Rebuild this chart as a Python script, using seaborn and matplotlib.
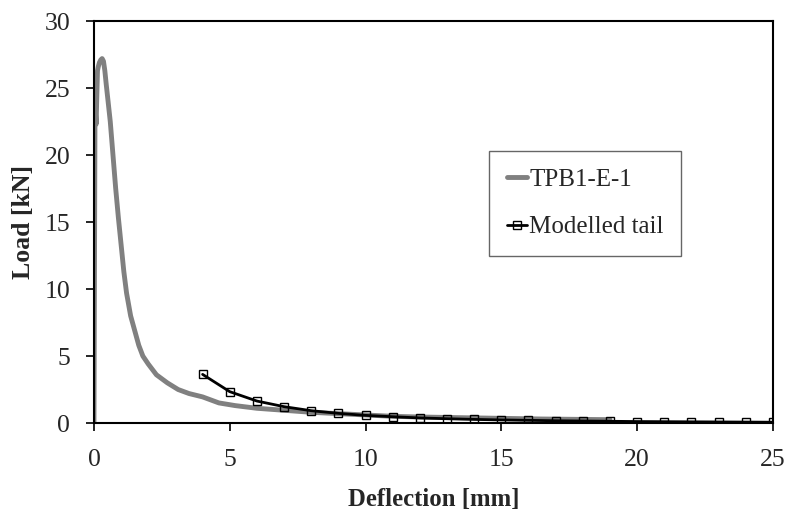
import numpy as np
import pandas as pd
import matplotlib
matplotlib.use("Agg")
import matplotlib.pyplot as plt
import seaborn as sns

test_defl = [0.0, 0.02, 0.04, 0.06, 0.08, 0.10, 0.13, 0.16, 0.20, 0.25, 0.30, 0.35,
             0.40, 0.45, 0.52, 0.60, 0.70, 0.80, 0.90, 1.00, 1.10, 1.20, 1.35, 1.50,
             1.65, 1.80, 2.0, 2.3, 2.7, 3.1, 3.5, 4.0, 4.6, 5.2, 6.0, 7.0, 8.0, 9.0,
             10.0, 11.0, 12.0, 13.5, 15.0, 16.5, 18.0, 19.0]
test_load = [0.0, 12.0, 24.5, 23.0, 22.3, 24.0, 26.3, 26.6, 26.9, 27.1, 27.2, 27.0,
             26.3, 25.3, 24.0, 22.5, 20.0, 17.5, 15.3, 13.3, 11.3, 9.7, 8.0, 6.9,
             5.8, 5.0, 4.4, 3.6, 3.0, 2.5, 2.2, 1.95, 1.5, 1.3, 1.1, 0.95, 0.8, 0.7,
             0.6, 0.5, 0.45, 0.4, 0.35, 0.3, 0.27, 0.25]

# modelled tail
model_defl = [4, 5, 6, 7, 8, 9, 10, 11, 12, 13, 14, 15, 16, 17, 18, 19, 20, 21, 22, 23, 24, 25]
model_load = [3.63, 2.34, 1.64, 1.22, 0.92, 0.72, 0.57, 0.47, 0.38, 0.32, 0.27, 0.23,
              0.2, 0.17, 0.15, 0.13, 0.11, 0.1, 0.09, 0.08, 0.07, 0.06]

x_ticks = [0, 5, 10, 15, 20, 25]
y_ticks = [0, 5, 10, 15, 20, 25, 30]

sns.set_style("ticks")
plt.rcParams['font.family'] = ['Liberation Serif', 'DejaVu Serif']

fig = plt.figure(figsize=(7.87, 5.13), dpi=100)
ax = fig.add_axes([0.1194, 0.1754, 0.8626, 0.7836])

test_df = pd.DataFrame({"defl": test_defl, "load": test_load})
model_df = pd.DataFrame({"defl": model_defl, "load": model_load})

sns.lineplot(data=test_df, x="defl", y="load", ax=ax, color="#808080",
             linewidth=3.5, label="TPB1-E-1", sort=False, estimator=None)
sns.lineplot(data=model_df, x="defl", y="load", ax=ax, color="black",
             linewidth=2, marker="s", markersize=6, markerfacecolor="none",
             markeredgecolor="black", markeredgewidth=1, label="Modelled tail")

ax.set_xlim(0, 25)
ax.set_ylim(0, 30)
ax.set_xticks(x_ticks)
ax.set_yticks(y_ticks)
ax.tick_params(labelsize=18.5, length=6, width=1.2, color="black", direction="out")
ax.tick_params(axis="x", pad=13)
ax.tick_params(axis="y", pad=11)
ax.set_xlabel("Deflection [mm]", fontsize=17.8, fontweight="bold", labelpad=12)
ax.set_ylabel("Load [kN]", fontsize=18.5, fontweight="bold", labelpad=7)
for s in ax.spines.values():
    s.set_visible(True)
    s.set_color("black")
    s.set_linewidth(1.5)

leg = ax.legend(loc="upper left", bbox_to_anchor=(0.582, 0.677), borderaxespad=0,
                fontsize=18, handlelength=0.8, handletextpad=0.1, labelspacing=1.0,
                fancybox=False, frameon=True, borderpad=0.7)
leg.get_frame().set_edgecolor("#404040")
leg.get_frame().set_linewidth(1)

fig.savefig("out.png", dpi=100)
